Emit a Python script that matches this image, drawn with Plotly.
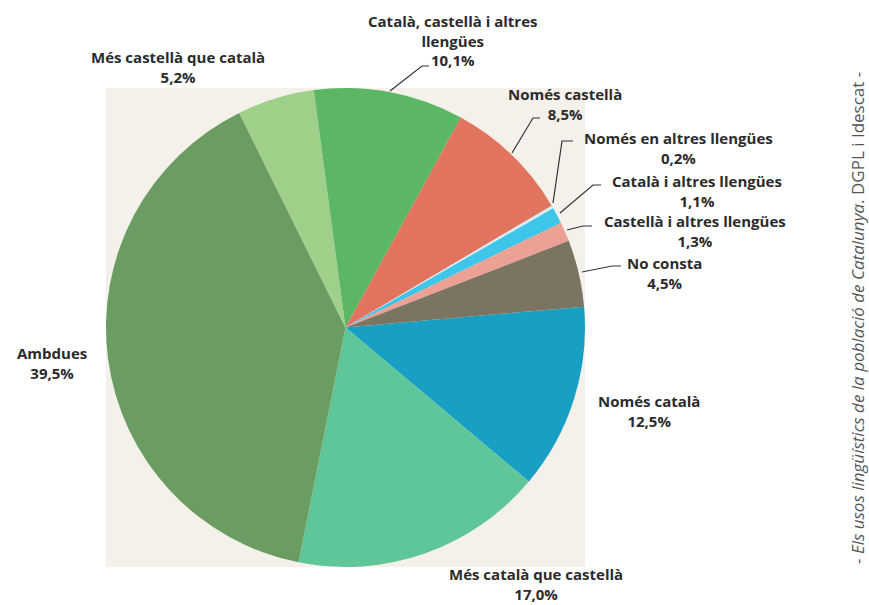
import plotly.graph_objects as go

W, H = 869, 605

# ---- data ----
categories = [
    "Només català",
    "Més català que castellà",
    "Ambdues",
    "Més castellà que català",
    "Català, castellà i altres llengües",
    "Només castellà",
    "Només en altres llengües",
    "Català i altres llengües",
    "Castellà i altres llengües",
    "No consta",
]
values = [12.5, 17.0, 39.5, 5.2, 10.1, 8.5, 0.2, 1.1, 1.3, 4.5]
label_text = [
    "Només català",
    "Més català que castellà",
    "Ambdues",
    "Més castellà que català",
    "Català, castellà i altres<br>llengües",
    "Només castellà",
    "Només en altres llengües",
    "Català i altres llengües",
    "Castellà i altres llengües",
    "No consta",
]
colors = ["#189fc4", "#5ec698", "#6b9d63", "#9fd08a", "#5bb764",
          "#e1735f", "#d6ecef", "#3ec5ea", "#eca194", "#7b7462"]

# ---- layout helpers (pixel -> paper) ----
def px(x):
    return x / W

def py(y):
    return 1 - y / H

pie_box = (106, 88, 585, 567)  # left, top, right, bottom in pixels

fig = go.Figure()
fig.add_trace(go.Pie(
    labels=categories,
    values=values,
    sort=False,
    direction="clockwise",
    rotation=85,
    marker=dict(colors=colors, line=dict(width=0)),
    textinfo="none",
    hoverinfo="label+percent",
    showlegend=False,
    domain=dict(x=[px(pie_box[0]), px(pie_box[2])],
                y=[py(pie_box[3]), py(pie_box[1])]),
))

# label positions (pixel centres)
label_pos = [(649, 411), (536, 584), (52, 363), (178, 67), (452, 41),
             (565, 104), (678, 148), (697, 191), (695, 231), (664, 273)]

font = dict(family="Open Sans, sans-serif", size=15, color="#2b2b2b", weight=700)
annotations = []
for txt, v, (x, y) in zip(label_text, values, label_pos):
    annotations.append(dict(
        text=f"{txt}<br>{v:.1f}%".replace(".", ","),
        x=px(x), y=py(y), xref="paper", yref="paper",
        xanchor="center", yanchor="middle", align="center",
        showarrow=False, font=font,
    ))

annotations.append(dict(
    text="- <i>Els usos lingüístics de la població de Catalunya</i>. DGPL i Idescat -",
    x=px(857), y=py(318), xref="paper", yref="paper",
    xanchor="center", yanchor="middle", textangle=-90, showarrow=False,
    font=dict(family="Open Sans, sans-serif", size=17, color="#555555"),
))

# leader lines (pixel paths)
leaders = [
    [(390, 91), (422, 66), (429, 66)],
    [(512, 153), (533, 118), (540, 118)],
    [(553, 203), (562, 141), (573, 141)],
    [(560, 213), (593, 185), (601, 185)],
    [(567, 230), (583, 226), (592, 226)],
    [(582, 272), (612, 266), (621, 266)],
]
shapes = [dict(type="rect", xref="paper", yref="paper",
               x0=px(pie_box[0]), x1=px(pie_box[2]),
               y0=py(pie_box[3]), y1=py(pie_box[1]),
               fillcolor="#f4f0ea", line=dict(width=0), layer="below")]
for pts in leaders:
    path = "M " + " L ".join(f"{px(x)},{py(y)}" for x, y in pts)
    shapes.append(dict(type="path", xref="paper", yref="paper", path=path,
                       line=dict(color="#333333", width=1.2)))

fig.update_layout(
    width=W, height=H,
    margin=dict(l=0, r=0, t=0, b=0),
    paper_bgcolor="white",
    plot_bgcolor="white",
    annotations=annotations,
    shapes=shapes,
)

fig.write_html("out.html", config={"displayModeBar": False})

# remove the default page margin so the figure sits at the window's corner
with open("out.html", "r", encoding="utf-8") as f:
    html = f.read()
html = html.replace("<head>", "<head><style>html,body{margin:0;padding:0;overflow:hidden;}</style>", 1)
with open("out.html", "w", encoding="utf-8") as f:
    f.write(html)
